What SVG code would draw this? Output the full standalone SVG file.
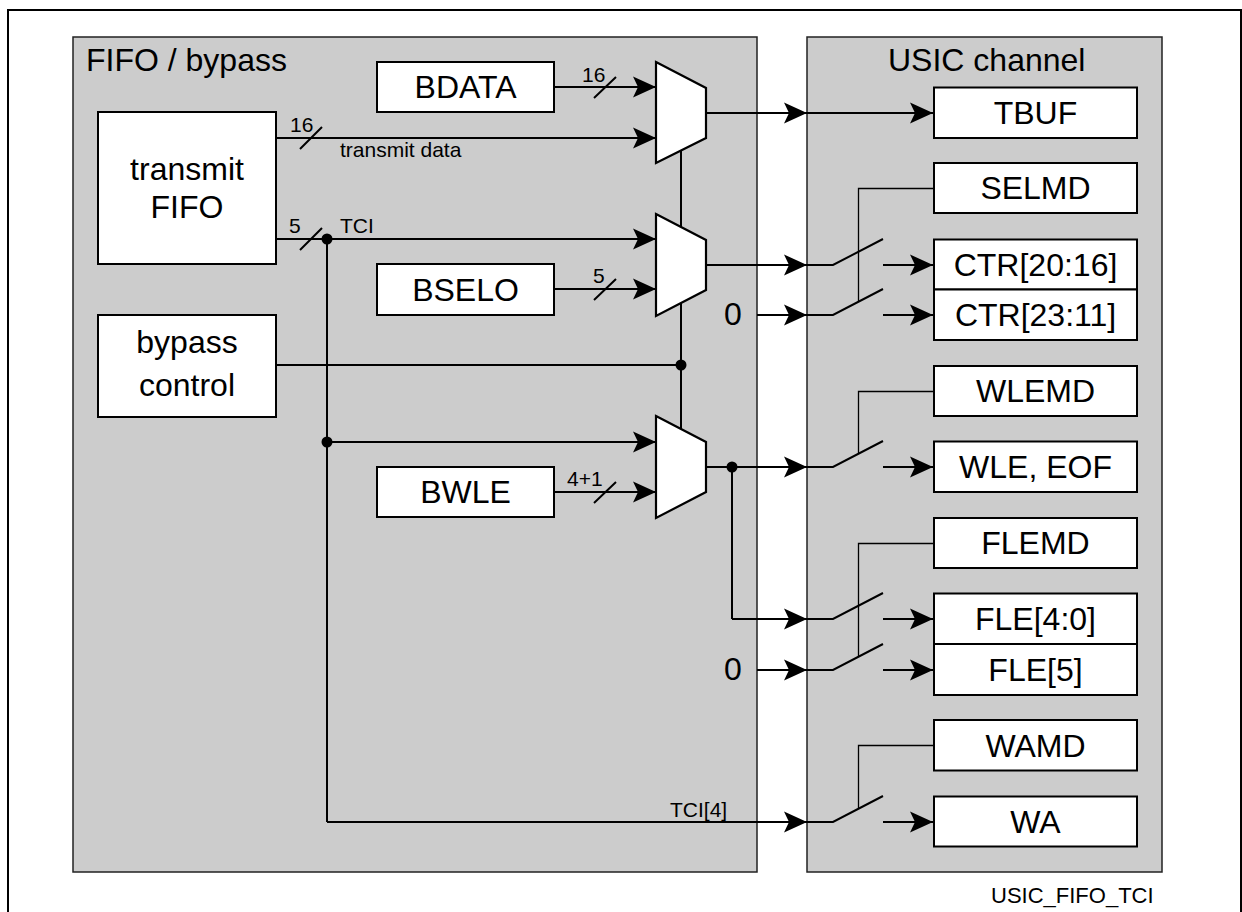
<svg xmlns="http://www.w3.org/2000/svg" width="1242" height="912" viewBox="0 0 1242 912">
<defs>
<style>
.panel{fill:#cccccc;stroke:#222;stroke-width:1.5}
.box{fill:#fff;stroke:#000;stroke-width:2}
.mux{fill:#fff;stroke:#000;stroke-width:2.2;stroke-linejoin:miter}
.w{fill:none;stroke:#000;stroke-width:2}
.wa{fill:none;stroke:#000;stroke-width:2;marker-end:url(#ah)}
.ctl{fill:none;stroke:#000;stroke-width:1.3}
.big{font-family:"Liberation Sans",Arial,sans-serif;font-size:32px;fill:#000}
.lbl{font-family:"Liberation Sans",Arial,sans-serif;font-size:32px;fill:#000;text-anchor:middle}
.sm{font-family:"Liberation Sans",Arial,sans-serif;font-size:21px;fill:#000}
.dot{fill:#000}
</style>
<marker id="ah" markerUnits="userSpaceOnUse" markerWidth="25" markerHeight="24" viewBox="-24 -12 25 24" refX="0" refY="0" orient="auto">
<path d="M0,0 L-23,-10.5 L-18,0 L-23,10.5 Z" fill="#000"/>
</marker>
</defs>
<rect width="1242" height="912" fill="#fff"/>
<path d="M8,912 V10 H1241 V912" fill="none" stroke="#000" stroke-width="2"/>

<g id="panel-fifo">
<rect class="panel" x="73" y="37" width="684" height="835"/>
<text class="big" x="86" y="71">FIFO / bypass</text>
</g>
<g id="panel-usic">
<rect class="panel" x="807" y="37" width="355" height="835"/>
<text class="big" x="888" y="71">USIC channel</text>
</g>

<g id="connectors">
<path class="w" d="M681,150 V429"/>
<path class="w" d="M276,365 H681"/>
<path class="wa" d="M554,87 H656"/>
<path class="wa" d="M276,138 H656"/>
<path class="wa" d="M276,239 H656"/>
<path class="wa" d="M554,289 H656"/>
<path class="w" d="M327,239 V822"/>
<path class="wa" d="M327,442 H656"/>
<path class="wa" d="M554,492 H656"/>
<path class="w" d="M594,98 L616,77 M300,149 L322,127 M300,250 L322,228 M594,300 L616,279 M594,503 L616,482"/>
<path class="wa" d="M706,113 H807"/>
<path class="wa" d="M807,113 H933"/>
<path class="wa" d="M706,265 H807"/>
<path class="wa" d="M757,315 H807"/>
<path class="wa" d="M706,467 H807"/>
<path class="w" d="M732,467 V619"/>
<path class="wa" d="M732,619 H807"/>
<path class="wa" d="M757,670 H807"/>
<path class="wa" d="M327,822 H807"/>
<path class="w" d="M807,265 H833 L883,239"/>
<path class="wa" d="M883,265 H933"/>
<path class="w" d="M807,315 H833 L883,289"/>
<path class="wa" d="M883,315 H933"/>
<path class="w" d="M807,467 H833 L883,441"/>
<path class="wa" d="M883,467 H933"/>
<path class="w" d="M807,619 H833 L883,593"/>
<path class="wa" d="M883,619 H933"/>
<path class="w" d="M807,670 H833 L883,644"/>
<path class="wa" d="M883,670 H933"/>
<path class="w" d="M807,822 H833 L883,796"/>
<path class="wa" d="M883,822 H933"/>
<path class="ctl" d="M933,188.5 H858.5 V302"/>
<path class="ctl" d="M933,391.5 H858.5 V454"/>
<path class="ctl" d="M933,543.5 H858.5 V657"/>
<path class="ctl" d="M933,745.5 H858.5 V808"/>
<circle class="dot" cx="327" cy="239" r="5.5"/>
<circle class="dot" cx="327" cy="442" r="5.5"/>
<circle class="dot" cx="681" cy="365" r="5.5"/>
<circle class="dot" cx="732" cy="467" r="5.5"/>
<text class="sm" x="582" y="82">16</text>
<text class="sm" x="290" y="132">16</text>
<text class="sm" x="340" y="157">transmit data</text>
<text class="sm" x="289" y="233">5</text>
<text class="sm" x="340" y="233">TCI</text>
<text class="sm" x="593" y="283">5</text>
<text class="sm" x="567" y="486">4+1</text>
<text class="sm" x="670" y="817">TCI[4]</text>
<text class="big" x="724" y="325">0</text>
<text class="big" x="724" y="680">0</text>
</g>

<g id="mux1"><polygon class="mux" points="656,62 706,88 706,138 656,163"/></g>
<g id="mux2"><polygon class="mux" points="656,214 706,240 706,290 656,316"/></g>
<g id="mux3"><polygon class="mux" points="656,416 706,442 706,492 656,518"/></g>

<g id="transmit-fifo"><rect class="box" x="98" y="112" width="178" height="152"/>
<text class="lbl" x="187" y="180">transmit</text><text class="lbl" x="187" y="218">FIFO</text></g>
<g id="bypass-control"><rect class="box" x="98" y="315" width="178" height="102"/>
<text class="lbl" x="187" y="353">bypass</text><text class="lbl" x="187" y="396">control</text></g>
<g id="bdata"><rect class="box" x="377" y="62" width="177" height="50"/><text class="lbl" x="465.5" y="98">BDATA</text></g>
<g id="bselo"><rect class="box" x="377" y="264" width="177" height="51"/><text class="lbl" x="465.5" y="301">BSELO</text></g>
<g id="bwle"><rect class="box" x="377" y="467" width="177" height="50"/><text class="lbl" x="465.5" y="503">BWLE</text></g>

<g id="tbuf"><rect class="box" x="934" y="87.5" width="203" height="50.5"/><text class="lbl" x="1035.5" y="124">TBUF</text></g>
<g id="selmd"><rect class="box" x="934" y="163" width="203" height="50"/><text class="lbl" x="1035.5" y="199">SELMD</text></g>
<g id="ctr2016"><rect class="box" x="934" y="239.5" width="203" height="50"/><text class="lbl" x="1035.5" y="276">CTR[20:16]</text></g>
<g id="ctr2311"><rect class="box" x="934" y="289.5" width="203" height="50.5"/><text class="lbl" x="1035.5" y="326">CTR[23:11]</text></g>
<g id="wlemd"><rect class="box" x="934" y="366" width="203" height="50"/><text class="lbl" x="1035.5" y="402">WLEMD</text></g>
<g id="wle-eof"><rect class="box" x="934" y="441.5" width="203" height="50.5"/><text class="lbl" x="1035.5" y="478">WLE, EOF</text></g>
<g id="flemd"><rect class="box" x="934" y="518" width="203" height="50"/><text class="lbl" x="1035.5" y="554">FLEMD</text></g>
<g id="fle40"><rect class="box" x="934" y="593.5" width="203" height="50.5"/><text class="lbl" x="1035.5" y="630">FLE[4:0]</text></g>
<g id="fle5"><rect class="box" x="934" y="644" width="203" height="51"/><text class="lbl" x="1035.5" y="681">FLE[5]</text></g>
<g id="wamd"><rect class="box" x="934" y="720" width="203" height="50.5"/><text class="lbl" x="1035.5" y="757">WAMD</text></g>
<g id="wa"><rect class="box" x="934" y="796.5" width="203" height="50"/><text class="lbl" x="1035.5" y="833">WA</text></g>

<text class="sm" x="991" y="903" style="font-size:22px">USIC_FIFO_TCI</text>
</svg>
